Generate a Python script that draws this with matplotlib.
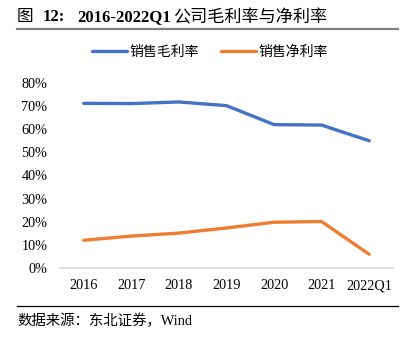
import matplotlib.pyplot as plt
from matplotlib.lines import Line2D

plt.rcParams['font.family'] = ['Liberation Serif', 'Noto Sans CJK SC']
plt.rcParams['axes.unicode_minus'] = False

# 数据
years = ['2016', '2017', '2018', '2019', '2020', '2021', '2022Q1']
gross_margin = [71.2, 71.1, 71.8, 70.2, 62.0, 61.8, 55.0]
net_margin = [12.0, 13.8, 15.1, 17.3, 19.8, 20.1, 5.9]
yticks = [0, 10, 20, 30, 40, 50, 60, 70, 80]

W, H = 416, 337
fig = plt.figure(figsize=(W / 100, H / 100), dpi=100)
ax = fig.add_axes([60 / W, 1 - 268 / H, 333 / W, 185 / H])

x = range(len(years))
ax.plot(x, gross_margin, color='#4472C4', lw=2.4, solid_capstyle='round', label='销售毛利率')
ax.plot(x, net_margin, color='#ED7D31', lw=2.4, solid_capstyle='round', label='销售净利率')

ax.set_xlim(-0.5, len(years) - 0.5)
ax.set_ylim(0, 80)
ax.set_xticks(list(x))
ax.set_xticklabels(years)
ax.set_yticks(yticks)
ax.set_yticklabels([f'{v}%' for v in yticks])
ax.tick_params(axis='both', length=0, labelsize=10.3)
ax.tick_params(axis='y', pad=9)
ax.tick_params(axis='x', pad=8)
for s in ['top', 'right', 'left']:
    ax.spines[s].set_visible(False)
ax.spines['bottom'].set_color('#D9D9D9')
ax.spines['bottom'].set_linewidth(1.2)

# 图例
fig.legend(loc='center', bbox_to_anchor=(210 / W, 1 - 52 / H), ncol=2, frameon=False,
           handlelength=2.5, handletextpad=0.2, columnspacing=1.6,
           prop={'family': ['Noto Sans CJK SC'], 'size': 10})

# 标题
ty = 1 - 17 / H
fig.text(17 / W, ty, '图', fontsize=12, family=['Noto Sans CJK SC'], va='center')
fig.text(43 / W, ty, '12:', fontsize=12, weight='bold', va='center')
fig.text(77 / W, ty, '2016-2022Q1', fontsize=12, weight='bold', va='center')
fig.text(173 / W, ty, '公司毛利率与净利率', fontsize=12.3, family=['Noto Sans CJK SC'], va='center')
fig.add_artist(Line2D([17 / W, 398 / W], [1 - 29 / H, 1 - 29 / H], color='#808080', lw=1.6))

# 数据来源
fig.add_artist(Line2D([17 / W, 398 / W], [1 - 306 / H, 1 - 306 / H], color='black', lw=0.9))
fig.text(17 / W, 1 - 321 / H, '数据来源：东北证券，Wind', fontsize=10.4, va='center')

fig.savefig('out.png', dpi=100)
